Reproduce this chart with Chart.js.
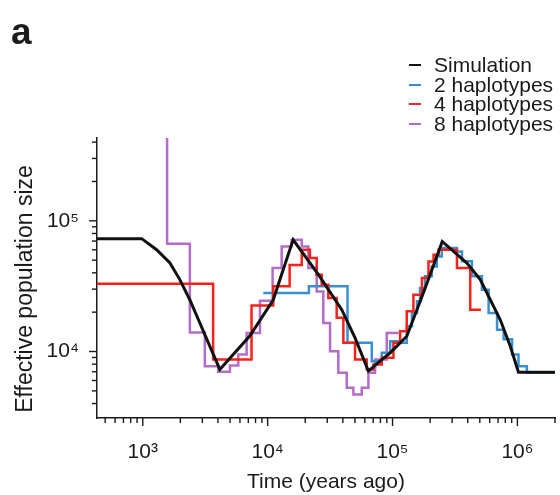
<!DOCTYPE html>
<html>
<head>
<meta charset="utf-8">
<script src="https://cdn.jsdelivr.net/npm/chart.js@4.4.1/dist/chart.umd.min.js"></script>
<style>
  html, body { margin: 0; padding: 0; background: #fff; }
  #wrap { position: relative; width: 560px; height: 495px; font-family: "Liberation Sans", Arial, sans-serif; color: #1a1a1a; }
  #panel { position: absolute; left: 11px; top: 14px; font-size: 37px; line-height: 36px; font-weight: bold; }
  #ytitle { position: absolute; left: -126px; top: 276px; width: 300px; height: 26px; line-height: 26px;
            font-size: 23px; text-align: center; transform: rotate(-90deg); white-space: nowrap; }
  #legend { position: absolute; left: 409px; top: 55px; }
  .row { position: relative; height: 19.5px; font-size: 21px; line-height: 19.5px; }
  .row i { position: absolute; left: 0; top: 9px; width: 12px; height: 2px; }
  .row span { position: absolute; left: 25px; top: 0; white-space: nowrap; }
</style>
</head>
<body>
<div id="wrap">
  <canvas id="chart" width="560" height="495"></canvas>
  <div id="panel">a</div>
  <div id="ytitle">Effective population size</div>
  <div id="legend"></div>
</div>
<script>
// ── DATA ──────────────────────────────────────────────────────────────────
// simulated history: breakpoints joined by straight segments
const simT = [430, 980, 1290, 1650, 1980, 2380, 2860, 3440, 4140, 7210, 11090, 13500, 16000,
              25500, 39200, 50100, 64100, 79400, 95700, 130000, 166000, 189000, 250000,
              394000, 504000, 729000, 877000, 1020000, 2000000];
const simN = [73000, 73000, 60100, 47600, 35500, 24900, 16600, 11000, 7300, 13200, 24900, 44000, 71600,
              38700, 20900, 12700, 7080, 8430, 9770, 13100, 24000, 33400, 69500,
              47500, 35500, 17500, 10970, 6950, 6950];

// step estimates: value holds from T[i] up to T[i+1]
const hap2T = [9230, 21400, 43600, 68200, 82000, 95700, 115000, 130000, 143000, 157000, 166000,
               182000, 206000, 226000, 248000, 328000, 360000, 432000, 520000, 588000, 687000,
               776000, 906000, 1020000, 1190000, 2000000];
const hap2N = [28000, 31600, 11650, 8430, 9800, 12000, 11650, 15600, 19700, 24200, 30600,
               37600, 44800, 53300, 62000, 58300, 49000, 37600, 29700, 19700, 14700,
               12400, 9480, 7730, 6870, 6870];

const hap4T = [430, 3660, 7430, 11090, 15000, 18750, 21800, 24700, 27100, 30600, 35700, 40400,
               50100, 62200, 70300, 82000, 101700, 115000, 130000, 147000, 172000, 194000,
               213000, 234000, 328000, 419000, 510000];
const hap4N = [33000, 8690, 22500, 31600, 46000, 60100, 51900, 38700, 32400, 25700, 18100, 11650,
               8690, 7290, 7970, 8960, 11650, 14300, 20300, 27200, 36500, 48900,
               54900, 60100, 43600, 20900, 20900];

const hap8T = [430, 1566, 2382, 3140, 4020, 4990, 5820, 6790, 8680, 10960, 12950, 15560, 18750,
               21200, 24700, 27900, 31600, 36800, 43000, 48600, 56700, 64100, 72500, 89900, 112000];
const hap8N = [2000000, 66700, 14000, 7730, 7000, 7810, 9480, 13870, 24500, 43600, 63700, 71600, 63700,
               43600, 28800, 16560, 10050, 6870, 5280, 4700, 5280, 6870, 8690, 13870, 13870];

const seriesNames  = ['Simulation', '2 haplotypes', '4 haplotypes', '8 haplotypes'];
const seriesColors = ['#111111', '#3a8fd2', '#f5231b', '#b46cc9'];

// ── STYLE ─────────────────────────────────────────────────────────────────
const AXIS = '#1a1a1a';
const FONT = "'Liberation Sans', Arial, sans-serif";
const SUP  = '⁰¹²³⁴⁵⁶⁷⁸⁹';

function pts(T, N) { return T.map((t, i) => ({ x: t, y: N[i] })); }

function powLabel(v) {
  const e = Math.log10(v);
  if (Math.abs(e - Math.round(e)) > 1e-6) return '';
  return '10' + String(Math.round(e)).split('').map(d => SUP[+d]).join('');
}

// major / minor tick marks drawn outside the axes
const tickMarks = {
  id: 'tickMarks',
  afterDraw(chart) {
    const ctx = chart.ctx;
    ctx.save();
    ctx.strokeStyle = AXIS;
    ctx.lineWidth = 1.4;
    ['x', 'y'].forEach(id => {
      const s  = chart.scales[id];
      const lo = Math.floor(Math.log10(s.min));
      const hi = Math.ceil(Math.log10(s.max));
      for (let e = lo; e <= hi; e++) {
        for (let m = 1; m <= 9; m++) {
          const v = m * Math.pow(10, e);
          if (v < s.min * 0.999 || v > s.max * 1.001) continue;
          const p   = s.getPixelForValue(v);
          const len = m === 1 ? 8 : 5;
          ctx.beginPath();
          if (id === 'x') { ctx.moveTo(p, s.top); ctx.lineTo(p, s.top + len); }
          else            { ctx.moveTo(s.right, p); ctx.lineTo(s.right - len, p); }
          ctx.stroke();
        }
      }
    });
    ctx.restore();
  }
};

const datasets = [
  { data: pts(simT, simN),  borderWidth: 3,   order: 0 },
  { data: pts(hap2T, hap2N), borderWidth: 2.5, order: 2, stepped: 'before' },
  { data: pts(hap4T, hap4N), borderWidth: 2.5, order: 1, stepped: 'before' },
  { data: pts(hap8T, hap8N), borderWidth: 2.5, order: 3, stepped: 'before' }
].map((d, i) => Object.assign(d, {
  label: seriesNames[i],
  borderColor: seriesColors[i],
  backgroundColor: seriesColors[i],
  pointRadius: 0,
  tension: 0,
  fill: false,
  borderJoinStyle: 'miter',
  borderCapStyle: 'butt'
}));

new Chart(document.getElementById('chart'), {
  type: 'line',
  data: { datasets },
  options: {
    responsive: false,
    animation: false,
    devicePixelRatio: 1,
    layout: { padding: { left: 0, right: 5, top: 138, bottom: 0 } },
    plugins: { legend: { display: false }, tooltip: { enabled: false } },
    scales: {
      x: {
        type: 'logarithmic',
        min: 430, max: 2000000,
        afterFit(s) { s.height = 77; s.paddingLeft = 0; s.paddingRight = 0; },
        grid: { display: false, drawTicks: true, tickLength: 8 },
        border: { display: true, color: AXIS, width: 1.5 },
        ticks: {
          autoSkip: false, maxRotation: 0, padding: 14,
          color: AXIS, font: { family: FONT, size: 21 },
          callback: v => powLabel(v)
        },
        title: {
          display: true, text: 'Time (years ago)', color: AXIS,
          font: { family: FONT, size: 21 }, padding: { top: 0, bottom: 0 }
        }
      },
      y: {
        type: 'logarithmic',
        min: 3100, max: 430000,
        afterFit(s) { s.width = 97; s.paddingTop = 0; s.paddingBottom = 0; },
        grid: { display: false, drawTicks: true, tickLength: 8 },
        border: { display: true, color: AXIS, width: 1.5 },
        ticks: {
          autoSkip: false, padding: 10,
          color: AXIS, font: { family: FONT, size: 21 },
          callback: v => powLabel(v)
        }
      }
    }
  },
  plugins: [tickMarks]
});

// ── LEGEND ────────────────────────────────────────────────────────────────
document.getElementById('legend').innerHTML = seriesNames.map((name, i) => `
  <div class="row"><i style="background:${seriesColors[i]}"></i><span>${name}</span></div>
`).join('');
</script>
</body>
</html>
